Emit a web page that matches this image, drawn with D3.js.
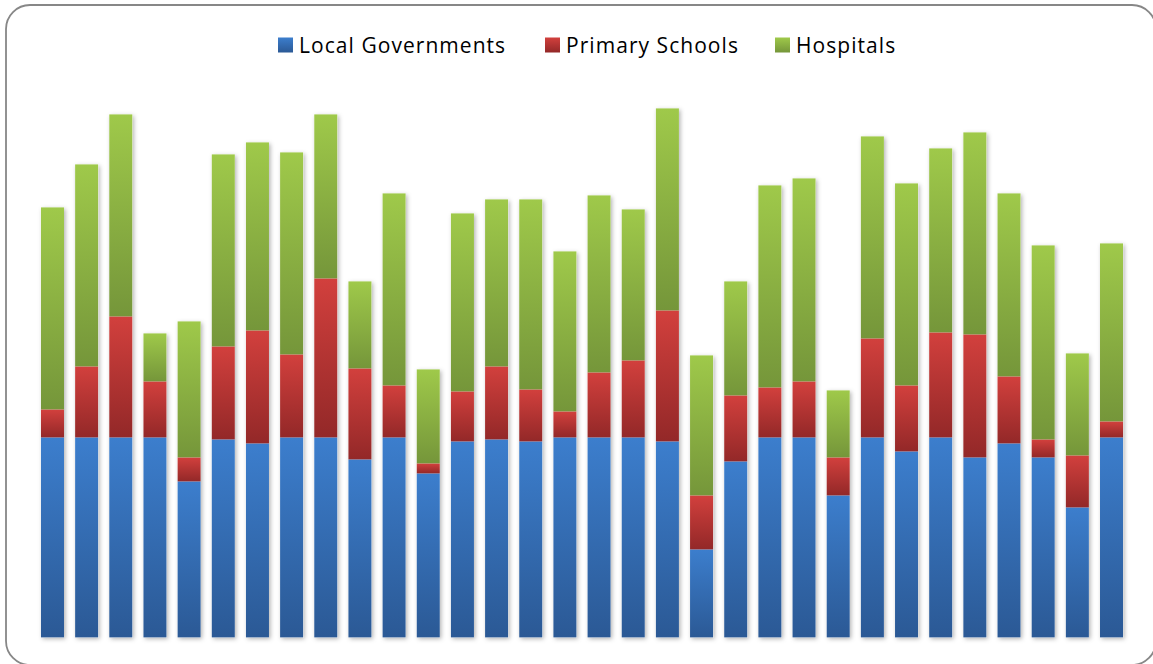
<!DOCTYPE html>
<html>
<head>
<meta charset="utf-8">
<script src="https://cdn.jsdelivr.net/npm/d3@7"></script>
<style>
    html, body { margin: 0; padding: 0; background: #fff; overflow: hidden; }
    text { font-family: "Open Sans", Lato, sans-serif; }
</style>
</head>
<body>
<div id="chart"></div>
<script>
const width = 1153;
const height = 664;

// no category labels are shown in the chart, bars are just numbered
const categories = d3.range(1, 33).map(String);
const seriesNames = ["Local Governments", "Primary Schools", "Hospitals"];
const localGovernments = [100, 100, 100, 100, 78, 99, 97, 100, 100, 89, 100, 82, 98, 99, 98, 100,
    100, 100, 98, 44, 88, 100, 100, 71, 100, 93, 100, 90, 97, 90, 65, 100];
const primarySchools = [14, 35.5, 60.5, 28, 12, 46.5, 56.5, 41.5, 79.5, 45.5, 26, 5, 25, 36.5, 26, 13,
    32.5, 38.5, 65.5, 27, 33, 25, 28, 19, 49.5, 33, 52.5, 61.5, 33.5, 9, 26, 8];
const hospitals = [101, 101, 101, 24, 68, 96, 94, 101, 82, 43.5, 96, 47, 89, 83.5, 95, 80,
    88.5, 75.5, 101, 70, 57, 101, 101.5, 33.5, 101, 101, 92, 101, 91.5, 97, 51, 89];

const colors = [
    ["#3c7ecd", "#2b5995"],
    ["#d2403d", "#932828"],
    ["#9fc94a", "#75963a"]
];

const svg = d3.select("#chart")
    .append("svg")
    .attr("width", width)
    .attr("height", height);

const defs = svg.append("defs");
colors.forEach((c, i) => {
    const g = defs.append("linearGradient")
        .attr("id", "grad" + i)
        .attr("x1", 0).attr("y1", 0)
        .attr("x2", 0).attr("y2", 1);
    g.append("stop").attr("offset", "0%").attr("stop-color", c[0]);
    g.append("stop").attr("offset", "100%").attr("stop-color", c[1]);
});
defs.append("filter")
    .attr("id", "shadow")
    .attr("x", "-50%").attr("y", "-10%")
    .attr("width", "200%").attr("height", "120%")
    .append("feDropShadow")
    .attr("dx", 1.5).attr("dy", 1.5)
    .attr("stdDeviation", 2)
    .attr("flood-color", "#000")
    .attr("flood-opacity", 0.3);

// chart frame
svg.append("rect")
    .attr("x", 6).attr("y", 5)
    .attr("width", 1150).attr("height", 660)
    .attr("rx", 24).attr("ry", 24)
    .attr("fill", "#fff")
    .attr("stroke", "#878787")
    .attr("stroke-width", 1.8);

const rows = categories.map((c, i) => ({
    cat: c,
    "Local Governments": localGovernments[i],
    "Primary Schools": primarySchools[i],
    "Hospitals": hospitals[i]
}));

const stacked = d3.stack().keys(seriesNames)(rows);

const x = d3.scaleBand()
    .domain(categories)
    .range([35.4, 1128.6])
    .paddingInner(0.326)
    .paddingOuter(0.163);

const y = d3.scaleLinear()
    .domain([0, 265])
    .range([637.4, 107.4]);

const bars = svg.append("g");

// shadows first so they sit behind all bars
bars.selectAll(".shadow")
    .data(rows)
    .join("rect")
    .attr("class", "shadow")
    .attr("x", d => x(d.cat))
    .attr("y", (d, i) => y(stacked[2][i][1]))
    .attr("width", x.bandwidth())
    .attr("height", (d, i) => y(0) - y(stacked[2][i][1]))
    .attr("fill", "#fff")
    .attr("filter", "url(#shadow)");

bars.selectAll(".series")
    .data(stacked)
    .join("g")
    .attr("class", "series")
    .attr("fill", (d, i) => "url(#grad" + i + ")")
    .selectAll("rect")
    .data(d => d)
    .join("rect")
    .attr("x", d => x(d.data.cat))
    .attr("y", d => y(d[1]))
    .attr("width", x.bandwidth())
    .attr("height", d => y(d[0]) - y(d[1]));

// legend
const legendX = [278, 545, 775];
const legend = svg.append("g")
    .selectAll("g")
    .data(seriesNames)
    .join("g")
    .attr("transform", (d, i) => "translate(" + legendX[i] + ",37.5)");

legend.append("rect")
    .attr("width", 15)
    .attr("height", 15)
    .attr("fill", (d, i) => "url(#grad" + i + ")");

legend.append("text")
    .attr("x", 21)
    .attr("y", 15)
    .attr("font-size", 21)
    .attr("letter-spacing", 1.05)
    .attr("fill", "#000")
    .text(d => d);
</script>
</body>
</html>
